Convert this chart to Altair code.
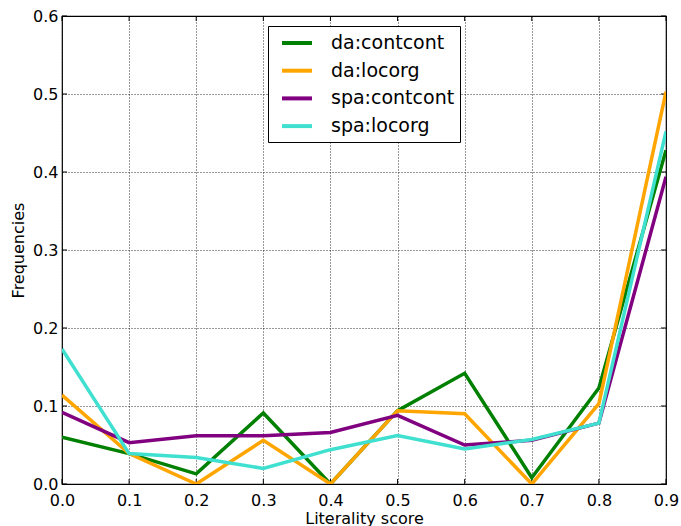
import altair as alt
import pandas as pd

x_values = [0.0, 0.1, 0.2, 0.3, 0.4, 0.5, 0.6, 0.7, 0.8, 0.9]
y_ticks = [0.0, 0.1, 0.2, 0.3, 0.4, 0.5, 0.6]
series_names = ["da:contcont", "da:locorg", "spa:contcont", "spa:locorg"]
series_colors = ["#008000", "#FFA500", "#800080", "#40E0D0"]
da_contcont = [0.060, 0.039, 0.013, 0.091, 0.000, 0.094, 0.142, 0.008, 0.123, 0.428]
da_locorg = [0.114, 0.039, 0.000, 0.056, 0.000, 0.094, 0.090, 0.000, 0.103, 0.503]
spa_contcont = [0.092, 0.053, 0.062, 0.062, 0.066, 0.088, 0.050, 0.056, 0.078, 0.394]
spa_locorg = [0.173, 0.039, 0.034, 0.020, 0.044, 0.062, 0.045, 0.057, 0.078, 0.452]

rows = []
for order, (name, vals) in enumerate(zip(series_names, [da_contcont, da_locorg, spa_contcont, spa_locorg])):
    for x, y in zip(x_values, vals):
        rows.append({"score": x, "freq": y, "series": name, "order": order})
df = pd.DataFrame(rows)
xt = pd.DataFrame({"score": x_values})
yt = pd.DataFrame({"freq": y_ticks})

FONT = "DejaVu Sans"
W, H, TL = 604, 468, 5

xscale = alt.Scale(domain=[0, 0.9], nice=False, zero=False)
yscale = alt.Scale(domain=[0, 0.6], nice=False)

lines = alt.Chart(df).mark_line(strokeWidth=3.5, clip=True).encode(
    x=alt.X("score:Q", scale=xscale,
            axis=alt.Axis(title="Literality score", values=x_values, format=".1f",
                          grid=True, ticks=False, labelPadding=8, titlePadding=2,
                          labelFlush=False, labelOverlap=False, domain=False)),
    y=alt.Y("freq:Q", scale=yscale,
            axis=alt.Axis(title="Frequencies", values=y_ticks,
                          format=".1f", grid=True, ticks=False, labelPadding=4,
                          labelFlush=False, labelOverlap=False,
                          titlePadding=6, domain=False)),
    color=alt.Color("series:N",
                    scale=alt.Scale(domain=series_names, range=series_colors),
                    legend=alt.Legend(title=None, orient="none", legendX=206, legendY=10,
                                      symbolType="M-1.5,0H1.5", symbolSize=400,
                                      symbolStrokeWidth=4, symbolOffset=12,
                                      labelFontSize=19, labelFont=FONT, labelOffset=22,
                                      rowPadding=5.7, padding=5, strokeColor="black",
                                      fillColor="white", labelColor="black")),
    order=alt.Order("order:Q"),
    detail="series:N",
)

tick_style = dict(color="black", strokeWidth=1)
bottom_ticks = alt.Chart(xt).mark_rule(**tick_style).encode(
    x=alt.X("score:Q", scale=xscale), y=alt.value(H), y2=alt.value(H - TL))
top_ticks = alt.Chart(xt).mark_rule(**tick_style).encode(
    x=alt.X("score:Q", scale=xscale), y=alt.value(0), y2=alt.value(TL))
left_ticks = alt.Chart(yt).mark_rule(**tick_style).encode(
    y=alt.Y("freq:Q", scale=yscale), x=alt.value(0), x2=alt.value(TL))
right_ticks = alt.Chart(yt).mark_rule(**tick_style).encode(
    y=alt.Y("freq:Q", scale=yscale), x=alt.value(W), x2=alt.value(W - TL))

chart = alt.layer(bottom_ticks, top_ticks, left_ticks, right_ticks, lines).properties(
    width=W, height=H,
    autosize=alt.AutoSizeParams(type="none"),
    padding={"left": 62, "top": 16, "right": 15, "bottom": 42},
).configure_view(
    stroke="black", strokeWidth=1.2
).configure_axis(
    labelFont=FONT, titleFont=FONT, labelFontSize=16, titleFontSize=16,
    labelColor="black", titleColor="black", titleFontWeight="normal",
    gridColor="black", gridDash=[1, 2], gridWidth=1, gridOpacity=0.8,
)

chart.save("out.html", embed_options={"renderer": "svg", "actions": False})
